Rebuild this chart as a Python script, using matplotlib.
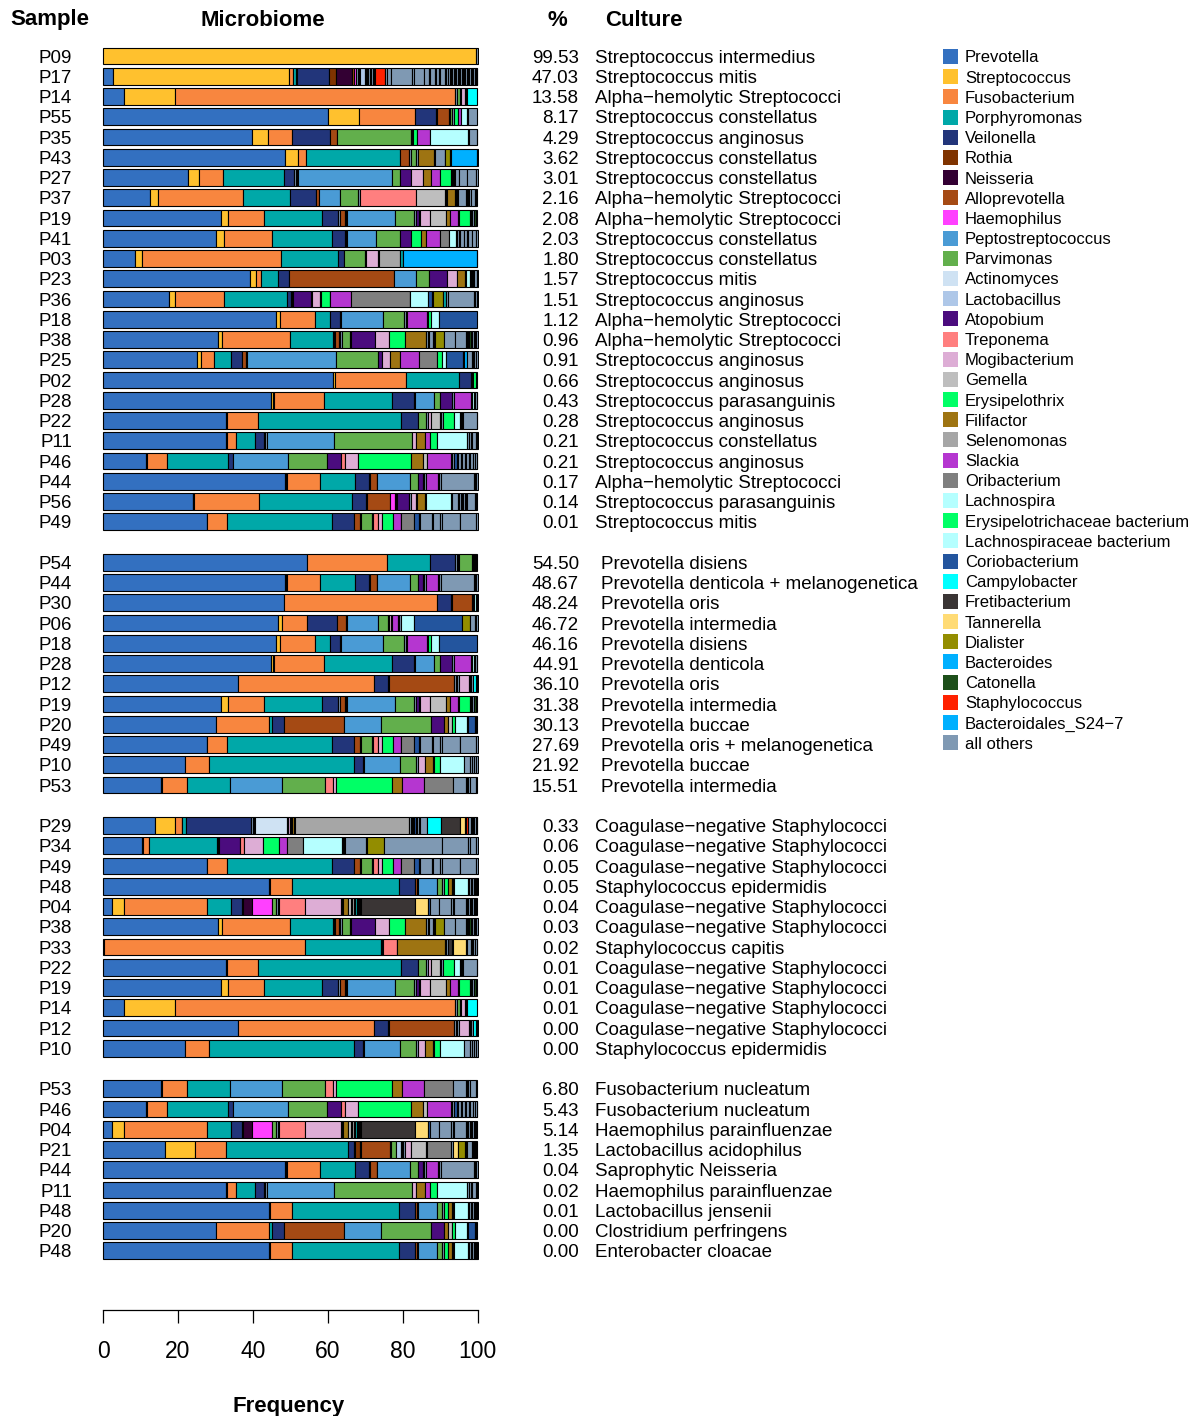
import matplotlib
matplotlib.use("Agg")
import matplotlib.pyplot as plt
from matplotlib.transforms import blended_transform_factory

plt.rcParams['font.family'] = ['Liberation Sans', 'DejaVu Sans']

# ---------------- taxa (legend) ----------------
TAXA_CODES = ["PRE", "STR", "FUS", "POR", "VEI", "ROT", "NEI", "ALL", "HAE", "PEP",
              "PAR", "ACT", "LAC", "ATO", "TRE", "MOG", "GEM", "ERY", "FIL", "SEL",
              "SLA", "ORI", "LCH", "ERB", "LCB", "COR", "CAM", "FRE", "TAN", "DIA",
              "BAC", "CAT", "STA", "BS2", "OTH"]
TAXA_NAMES = ["Prevotella", "Streptococcus", "Fusobacterium", "Porphyromonas", "Veilonella",
              "Rothia", "Neisseria", "Alloprevotella", "Haemophilus", "Peptostreptococcus",
              "Parvimonas", "Actinomyces", "Lactobacillus", "Atopobium", "Treponema",
              "Mogibacterium", "Gemella", "Erysipelothrix", "Filifactor", "Selenomonas",
              "Slackia", "Oribacterium", "Lachnospira", "Erysipelotrichaceae bacterium",
              "Lachnospiraceae bacterium", "Coriobacterium", "Campylobacter", "Fretibacterium",
              "Tannerella", "Dialister", "Bacteroides", "Catonella", "Staphylococcus",
              "Bacteroidales_S24\u22127", "all others"]
TAXA_COLORS = ["#3370C0", "#FFC12E", "#F8863F", "#00A8A8", "#22357A",
               "#7F3300", "#330033", "#A54A14", "#FF40FF", "#4A9BD5",
               "#62AF4C", "#CFE2F3", "#AEC7E8", "#4B0C7E", "#FF7F7F",
               "#DDADD5", "#BEBEBE", "#00FF66", "#9E7412", "#A6A6A6",
               "#B536D0", "#7F7F7F", "#B5FFFF", "#00FF66", "#B5FFFF",
               "#23559E", "#00FFFF", "#3A3535", "#FFDB75", "#938D00",
               "#00B0FF", "#1D4F1A", "#FF2100", "#00B0FF", "#7F99B3"]
# "K" = cluster of many tiny 'all others' OTUs

# ---------------- per-sample composition (taxon, %) ----------------
P09 = [("STR", 99.53), ("K", 0.47)]
P17 = [("PRE", 2.7), ("STR", 47.03), ("FUS", 1.0), ("POR", 0.9), ("K", 0.3), ("VEI", 8.4),
       ("ROT", 1.9), ("NEI", 4.3), ("ALL", 0.5), ("HAE", 0.6), ("K", 1.0), ("LAC", 1.2),
       ("K", 1.0), ("OTH", 0.5), ("K", 1.4), ("STA", 2.6), ("K", 0.4), ("OTH", 1.1),
       ("OTH", 5.8), ("K", 0.4), ("OTH", 2.7), ("OTH", 1.3), ("K", 0.4), ("OTH", 1.3),
       ("K", 0.3), ("OTH", 0.6), ("K", 0.4), ("OTH", 1.3), ("K", 0.3), ("OTH", 0.6),
       ("K", 1.0), ("OTH", 0.4), ("K", 6.3)]
P14 = [("PRE", 5.6), ("STR", 13.58), ("FUS", 74.9), ("K", 0.5), ("PAR", 0.8), ("K", 0.3),
       ("MOG", 0.9), ("K", 0.6), ("CAM", 2.8)]
P55 = [("PRE", 60.1), ("STR", 8.17), ("FUS", 15.0), ("VEI", 5.6), ("K", 0.3), ("ALL", 3.2),
       ("K", 0.3), ("PAR", 0.6), ("K", 0.4), ("ERY", 1.1), ("SLA", 0.7), ("LCH", 1.6),
       ("K", 0.4), ("OTH", 2.5)]
P35 = [("PRE", 39.9), ("STR", 4.29), ("FUS", 6.3), ("VEI", 10.0), ("ALL", 1.9), ("PAR", 19.9),
       ("K", 0.6), ("ERY", 1.0), ("SLA", 3.3), ("LCH", 10.3), ("K", 0.3), ("OTH", 2.0)]
P43 = [("PRE", 48.5), ("STR", 3.62), ("FUS", 2.0), ("POR", 25.2), ("ALL", 2.4), ("K", 0.4),
       ("PAR", 1.4), ("K", 0.5), ("FIL", 4.3), ("K", 0.3), ("OTH", 2.6), ("K", 0.2),
       ("DIA", 1.3), ("K", 0.3), ("BAC", 6.9)]
P27 = [("PRE", 22.7), ("STR", 3.01), ("FUS", 6.2), ("POR", 16.5), ("VEI", 2.7), ("K", 1.0),
       ("PEP", 25.0), ("PAR", 2.2), ("ATO", 2.8), ("MOG", 3.3), ("FIL", 2.3), ("SLA", 2.4),
       ("ERY", 2.7), ("K", 1.3), ("OTH", 0.9), ("OTH", 2.2), ("OTH", 2.5)]
P37 = [("PRE", 12.6), ("STR", 2.16), ("FUS", 22.6), ("POR", 12.6), ("VEI", 6.9), ("ALL", 0.9),
       ("PEP", 5.6), ("PAR", 4.8), ("K", 0.5), ("TRE", 14.9), ("GEM", 7.8), ("K", 0.6),
       ("FIL", 2.0), ("K", 0.9), ("OTH", 2.0), ("K", 1.3), ("OTH", 1.3)]
P19 = [("PRE", 31.38), ("STR", 2.08), ("FUS", 9.6), ("POR", 15.3), ("VEI", 4.5), ("K", 0.3),
       ("ALL", 1.5), ("K", 0.6), ("PEP", 12.7), ("PAR", 5.1), ("K", 0.4), ("ATO", 0.9),
       ("K", 0.3), ("MOG", 2.6), ("GEM", 4.4), ("FIL", 1.1), ("SLA", 2.0), ("K", 0.2),
       ("ERY", 3.1), ("K", 0.9), ("CAT", 0.7)]
P41 = [("PRE", 30.3), ("STR", 2.03), ("FUS", 12.9), ("POR", 16.0), ("VEI", 3.3), ("K", 0.6),
       ("PEP", 7.8), ("PAR", 6.4), ("ATO", 2.8), ("ERY", 2.8), ("FIL", 1.3), ("SLA", 3.8),
       ("ORI", 2.4), ("LCH", 1.8), ("K", 1.2), ("OTH", 0.9), ("OTH", 0.9), ("K", 0.3),
       ("OTH", 1.1), ("OTH", 1.0)]
P03 = [("PRE", 8.5), ("STR", 1.80), ("FUS", 37.2), ("POR", 15.3), ("VEI", 1.6), ("PAR", 5.6),
       ("K", 0.2), ("MOG", 3.3), ("K", 0.3), ("SEL", 5.5), ("POR", 0.7), ("K", 0.2),
       ("BAC", 19.7)]
P23 = [("PRE", 39.2), ("STR", 1.57), ("FUS", 1.4), ("POR", 4.6), ("VEI", 2.8), ("ALL", 28.1),
       ("PEP", 5.8), ("PAR", 3.7), ("ATO", 4.7), ("MOG", 2.7), ("FIL", 2.0), ("K", 0.4),
       ("LCH", 0.9), ("K", 1.3), ("OTH", 0.7)]
P36 = [("PRE", 17.5), ("STR", 1.6), ("FUS", 13.2), ("POR", 16.9), ("VEI", 0.9), ("K", 0.7),
       ("ATO", 4.7), ("K", 0.2), ("MOG", 2.2), ("K", 0.2), ("ERY", 2.4), ("K", 0.2),
       ("SLA", 5.6), ("ORI", 15.6), ("K", 0.2), ("LCH", 4.7), ("COR", 1.1), ("K", 0.2),
       ("DIA", 2.8), ("POR", 0.7), ("OTH", 0.6), ("OTH", 6.9), ("K", 0.7)]
P18 = [("PRE", 46.16), ("STR", 1.12), ("FUS", 9.2), ("POR", 4.2), ("VEI", 2.7), ("K", 0.3),
       ("PEP", 11.0), ("PAR", 5.8), ("K", 0.7), ("SLA", 5.3), ("K", 0.2), ("ERY", 0.9),
       ("LCH", 2.1), ("COR", 10.3)]
P38 = [("PRE", 30.7), ("STR", 0.96), ("FUS", 18.3), ("POR", 11.4), ("K", 0.6), ("ALL", 1.1),
       ("K", 0.7), ("PAR", 2.2), ("K", 0.3), ("ATO", 6.4), ("MOG", 3.8), ("ERY", 4.2),
       ("FIL", 5.6), ("K", 0.8), ("OTH", 1.0), ("K", 0.6), ("DIA", 2.4), ("OTH", 2.9),
       ("OTH", 2.9), ("K", 0.9), ("CAT", 0.4), ("K", 1.2)]
P25 = [("PRE", 25.2), ("STR", 0.91), ("FUS", 3.5), ("POR", 4.5), ("VEI", 3.0), ("ALL", 1.2),
       ("K", 0.2), ("PEP", 23.7), ("PAR", 11.3), ("ATO", 0.9), ("MOG", 2.3), ("FIL", 2.7),
       ("SLA", 5.1), ("ORI", 4.7), ("ERY", 1.3), ("LCH", 1.2), ("COR", 4.3), ("K", 0.4),
       ("BAC", 0.9), ("OTH", 1.2), ("K", 1.0)]
P02 = [("PRE", 61.3), ("STR", 0.66), ("FUS", 18.9), ("POR", 14.3), ("VEI", 3.0), ("K", 0.7),
       ("ERY", 0.7), ("K", 0.4)]
P28 = [("PRE", 44.91), ("STR", 0.43), ("K", 0.3), ("FUS", 13.4), ("POR", 18.1), ("VEI", 6.0),
       ("K", 0.2), ("PEP", 5.1), ("PAR", 1.6), ("ATO", 3.1), ("K", 0.5), ("SLA", 4.5),
       ("K", 0.3), ("LCH", 0.6), ("K", 0.8)]
P22 = [("PRE", 32.8), ("STR", 0.28), ("FUS", 8.3), ("POR", 38.2), ("VEI", 4.6), ("PAR", 2.2),
       ("K", 0.3), ("MOG", 0.9), ("GEM", 2.5), ("K", 0.6), ("ERY", 3.1), ("LCH", 1.5),
       ("K", 0.9), ("OTH", 3.6)]
P11 = [("PRE", 32.8), ("STR", 0.21), ("FUS", 2.5), ("POR", 5.1), ("VEI", 2.4), ("K", 0.7),
       ("PEP", 18.0), ("PAR", 20.7), ("MOG", 1.3), ("FIL", 2.2), ("SLA", 1.3), ("ERY", 2.0),
       ("LCH", 8.0), ("K", 0.5), ("OTH", 0.6), ("K", 0.2), ("OTH", 1.0), ("K", 0.4)]
P46 = [("PRE", 11.4), ("K", 0.3), ("FUS", 5.3), ("POR", 16.5), ("VEI", 1.1), ("PEP", 14.9),
       ("PAR", 10.2), ("ATO", 3.8), ("TRE", 1.1), ("MOG", 3.6), ("ERY", 14.1), ("FIL", 3.1),
       ("GEM", 1.2), ("SLA", 6.2), ("LCH", 0.5), ("K", 0.4), ("COR", 0.7), ("K", 0.4),
       ("OTH", 0.8), ("K", 0.3), ("OTH", 0.8), ("K", 0.3), ("OTH", 0.8), ("K", 0.3),
       ("OTH", 0.8), ("K", 0.3), ("OTH", 0.7)]
P44 = [("PRE", 48.67), ("STR", 0.17), ("K", 0.3), ("FUS", 8.9), ("POR", 9.2), ("VEI", 3.8),
       ("K", 0.2), ("ALL", 1.8), ("K", 0.2), ("PEP", 8.7), ("PAR", 2.3), ("ATO", 1.2),
       ("K", 0.8), ("SLA", 3.3), ("K", 0.6), ("OTH", 8.9), ("K", 0.6)]
P56 = [("PRE", 24.0), ("STR", 0.14), ("K", 0.2), ("FUS", 17.3), ("POR", 24.8), ("VEI", 3.8),
       ("K", 0.2), ("ALL", 6.2), ("HAE", 1.3), ("K", 0.6), ("ATO", 3.3), ("K", 0.5),
       ("MOG", 1.3), ("K", 0.3), ("FIL", 2.0), ("K", 0.3), ("LCH", 6.6), ("K", 0.4),
       ("OTH", 1.6), ("K", 2.4), ("OTH", 2.0), ("K", 0.3)]
P49 = [("PRE", 27.69), ("STR", 0.01), ("FUS", 5.4), ("POR", 28.0), ("VEI", 5.8), ("ALL", 1.8),
       ("K", 0.2), ("PAR", 2.9), ("K", 0.2), ("TRE", 1.4), ("MOG", 1.2), ("ERY", 2.9),
       ("SLA", 2.0), ("K", 0.2), ("ORI", 3.4), ("COR", 1.4), ("K", 0.2), ("OTH", 3.1),
       ("K", 0.3), ("OTH", 2.0), ("K", 0.4), ("OTH", 4.7), ("K", 0.2), ("OTH", 4.3)]
P54 = [("PRE", 54.50), ("FUS", 21.4), ("POR", 11.5), ("VEI", 6.7), ("K", 0.9), ("PAR", 3.4),
       ("K", 1.6)]
P30 = [("PRE", 48.24), ("FUS", 41.0), ("VEI", 3.7), ("K", 0.2), ("ALL", 5.3), ("K", 0.6),
       ("LCH", 0.5), ("K", 0.4)]
P06 = [("PRE", 46.72), ("STR", 1.2), ("FUS", 6.6), ("VEI", 8.0), ("ALL", 2.5), ("K", 0.2),
       ("PEP", 8.1), ("PAR", 2.8), ("K", 0.2), ("MOG", 0.7), ("K", 0.2), ("SLA", 1.5),
       ("K", 0.8), ("LCH", 3.6), ("COR", 12.7), ("DIA", 2.2), ("OTH", 1.4)]
P12 = [("PRE", 36.10), ("FUS", 36.3), ("VEI", 3.7), ("K", 0.2), ("ALL", 17.5), ("K", 0.4),
       ("PAR", 0.4), ("K", 0.4), ("MOG", 2.7), ("K", 1.0), ("CAM", 0.9), ("K", 0.3)]
P20 = [("PRE", 30.13), ("FUS", 14.2), ("POR", 0.7), ("VEI", 3.3), ("ALL", 16.0), ("PEP", 9.9),
       ("PAR", 13.3), ("ATO", 3.6), ("FIL", 1.0), ("GEM", 1.0), ("ERY", 0.9), ("LCH", 3.1),
       ("K", 0.3), ("COR", 2.0), ("K", 0.6)]
P10 = [("PRE", 21.92), ("FUS", 6.5), ("POR", 38.5), ("VEI", 2.5), ("K", 0.4), ("PEP", 9.5),
       ("PAR", 4.3), ("K", 0.5), ("MOG", 1.9), ("FIL", 2.0), ("K", 0.4), ("ERY", 1.6),
       ("LCH", 6.5), ("OTH", 1.5), ("K", 0.4), ("OTH", 0.6), ("K", 0.5)]
P53 = [("PRE", 15.51), ("K", 0.2), ("FUS", 6.80), ("POR", 11.3), ("PEP", 14.1), ("PAR", 11.4),
       ("TRE", 2.0), ("MOG", 0.9), ("ERY", 15.1), ("FIL", 2.5), ("SLA", 6.0), ("ORI", 7.7),
       ("OTH", 3.4), ("K", 1.0), ("OTH", 1.6), ("K", 0.5)]
P29 = [("PRE", 14.0), ("STR", 5.2), ("FUS", 1.8), ("K", 0.2), ("POR", 0.9), ("VEI", 17.5),
       ("K", 1.0), ("ACT", 8.5), ("K", 0.3), ("MOG", 0.4), ("TRE", 0.4), ("K", 0.3),
       ("FIL", 0.4), ("K", 0.4), ("SEL", 30.5), ("K", 1.3), ("COR", 0.4), ("K", 0.4),
       ("OTH", 0.5), ("K", 0.3), ("OTH", 1.9), ("CAM", 3.7), ("FRE", 5.1), ("TAN", 1.3),
       ("K", 0.3), ("STA", 0.33), ("OTH", 0.9), ("K", 1.6)]
P34 = [("PRE", 10.5), ("K", 0.2), ("FUS", 1.5), ("POR", 18.3), ("K", 0.6), ("ATO", 5.6),
       ("TRE", 0.9), ("MOG", 5.1), ("ERY", 4.3), ("SLA", 2.0), ("ORI", 4.5), ("LCH", 10.2),
       ("K", 0.9), ("OTH", 5.5), ("K", 0.4), ("DIA", 4.5), ("OTH", 15.6), ("OTH", 6.9),
       ("K", 0.5), ("OTH", 1.5)]
P48 = [("PRE", 44.3), ("K", 0.2), ("FUS", 5.9), ("POR", 28.7), ("VEI", 4.2), ("ALL", 0.5),
       ("K", 0.4), ("PEP", 5.1), ("PAR", 1.3), ("K", 0.4), ("ERY", 1.2), ("FIL", 0.9),
       ("K", 0.6), ("LCH", 3.8), ("K", 1.8), ("OTH", 0.3), ("K", 0.3)]
P04 = [("PRE", 2.5), ("STR", 3.0), ("FUS", 22.4), ("POR", 6.4), ("VEI", 2.7), ("K", 0.4),
       ("NEI", 2.4), ("HAE", 5.2), ("PAR", 1.3), ("K", 0.7), ("TRE", 6.9), ("MOG", 9.6),
       ("K", 0.6), ("FIL", 1.4), ("GEM", 0.6), ("K", 0.3), ("SEL", 0.6), ("K", 0.3),
       ("POR", 0.4), ("K", 1.3), ("FRE", 14.2), ("TAN", 3.7), ("COR", 0.5), ("OTH", 2.2),
       ("OTH", 3.4), ("K", 0.7), ("OTH", 3.1), ("K", 3.2)]
P33 = [("PRE", 0.3), ("FUS", 53.6), ("POR", 20.3), ("K", 0.6), ("TRE", 3.6), ("K", 0.2),
       ("FIL", 12.7), ("K", 0.7), ("FRE", 1.3), ("K", 0.2), ("TAN", 3.4), ("K", 0.2),
       ("OTH", 1.1), ("K", 0.7), ("STA", 0.02), ("OTH", 0.5), ("K", 0.5)]
P21 = [("PRE", 16.5), ("STR", 8.0), ("FUS", 8.3), ("POR", 32.7), ("VEI", 1.5), ("K", 0.3),
       ("ROT", 1.3), ("K", 0.4), ("ALL", 7.6), ("K", 0.4), ("PAR", 1.2), ("LAC", 1.35),
       ("K", 1.0), ("MOG", 1.8), ("GEM", 4.0), ("K", 0.2), ("ORI", 6.4), ("K", 0.5),
       ("TAN", 1.3), ("DIA", 1.8), ("K", 0.6), ("OTH", 1.4), ("K", 0.9)]

SAMPLES = {"P09": P09, "P17": P17, "P14": P14, "P55": P55, "P35": P35, "P43": P43,
           "P27": P27, "P37": P37, "P19": P19, "P41": P41, "P03": P03, "P23": P23,
           "P36": P36, "P18": P18, "P38": P38, "P25": P25, "P02": P02, "P28": P28,
           "P22": P22, "P11": P11, "P46": P46, "P44": P44, "P56": P56, "P49": P49,
           "P54": P54, "P30": P30, "P06": P06, "P12": P12, "P20": P20, "P10": P10,
           "P53": P53, "P29": P29, "P34": P34, "P48": P48, "P04": P04, "P33": P33,
           "P21": P21}

# ---------------- groups: sample, culture %, culture name ----------------
G1_IDS = ["P09", "P17", "P14", "P55", "P35", "P43", "P27", "P37", "P19", "P41", "P03", "P23",
          "P36", "P18", "P38", "P25", "P02", "P28", "P22", "P11", "P46", "P44", "P56", "P49"]
G1_PCT = [99.53, 47.03, 13.58, 8.17, 4.29, 3.62, 3.01, 2.16, 2.08, 2.03, 1.80, 1.57,
          1.51, 1.12, 0.96, 0.91, 0.66, 0.43, 0.28, 0.21, 0.21, 0.17, 0.14, 0.01]
G1_CULT = ["Streptococcus intermedius", "Streptococcus mitis", "Alpha\u2212hemolytic Streptococci",
           "Streptococcus constellatus", "Streptococcus anginosus", "Streptococcus constellatus",
           "Streptococcus constellatus", "Alpha\u2212hemolytic Streptococci",
           "Alpha\u2212hemolytic Streptococci", "Streptococcus constellatus",
           "Streptococcus constellatus", "Streptococcus mitis", "Streptococcus anginosus",
           "Alpha\u2212hemolytic Streptococci", "Alpha\u2212hemolytic Streptococci",
           "Streptococcus anginosus", "Streptococcus anginosus", "Streptococcus parasanguinis",
           "Streptococcus anginosus", "Streptococcus constellatus", "Streptococcus anginosus",
           "Alpha\u2212hemolytic Streptococci", "Streptococcus parasanguinis", "Streptococcus mitis"]

G2_IDS = ["P54", "P44", "P30", "P06", "P18", "P28", "P12", "P19", "P20", "P49", "P10", "P53"]
G2_PCT = [54.50, 48.67, 48.24, 46.72, 46.16, 44.91, 36.10, 31.38, 30.13, 27.69, 21.92, 15.51]
G2_CULT = ["Prevotella disiens", "Prevotella denticola + melanogenetica", "Prevotella oris",
           "Prevotella intermedia", "Prevotella disiens", "Prevotella denticola",
           "Prevotella oris", "Prevotella intermedia", "Prevotella buccae",
           "Prevotella oris + melanogenetica", "Prevotella buccae", "Prevotella intermedia"]

G3_IDS = ["P29", "P34", "P49", "P48", "P04", "P38", "P33", "P22", "P19", "P14", "P12", "P10"]
G3_PCT = [0.33, 0.06, 0.05, 0.05, 0.04, 0.03, 0.02, 0.01, 0.01, 0.01, 0.00, 0.00]
G3_CULT = ["Coagulase\u2212negative Staphylococci", "Coagulase\u2212negative Staphylococci",
           "Coagulase\u2212negative Staphylococci", "Staphylococcus epidermidis",
           "Coagulase\u2212negative Staphylococci", "Coagulase\u2212negative Staphylococci",
           "Staphylococcus capitis", "Coagulase\u2212negative Staphylococci",
           "Coagulase\u2212negative Staphylococci", "Coagulase\u2212negative Staphylococci",
           "Coagulase\u2212negative Staphylococci", "Staphylococcus epidermidis"]

G4_IDS = ["P53", "P46", "P04", "P21", "P44", "P11", "P48", "P20", "P48"]
G4_PCT = [6.80, 5.43, 5.14, 1.35, 0.04, 0.02, 0.01, 0.00, 0.00]
G4_CULT = ["Fusobacterium nucleatum", "Fusobacterium nucleatum", "Haemophilus parainfluenzae",
           "Lactobacillus acidophilus", "Saprophytic Neisseria", "Haemophilus parainfluenzae",
           "Lactobacillus jensenii", "Clostridium perfringens", "Enterobacter cloacae"]

GROUPS = [(G1_IDS, G1_PCT, G1_CULT), (G2_IDS, G2_PCT, G2_CULT),
          (G3_IDS, G3_PCT, G3_CULT), (G4_IDS, G4_PCT, G4_CULT)]

# ---------------- figure ----------------
W, H = 1198, 1416
fig = plt.figure(figsize=(W / 100, H / 100), dpi=100)

def fx(x):
    return x / W

def fy(y):
    return 1 - y / H

row_h = 20.25
scale = 3.745          # px per % unit
x0_px = 103.0
n_slots = 60
top_px = 56 - row_h / 2
bot_px = top_px + n_slots * row_h
xmin, xmax = -0.5, 100.5
ax = fig.add_axes([fx(x0_px + xmin * scale), fy(bot_px),
                   (xmax - xmin) * scale / W, (bot_px - top_px) / H])
ax.set_xlim(xmin, xmax)
ax.set_ylim(n_slots - 0.5, -0.5)

color_of = dict(zip(TAXA_CODES, TAXA_COLORS))
color_of["K"] = color_of["OTH"]

ys, lefts, widths, cols = [], [], [], []
slot = 0
slots_per_group = []
for gi, (ids, pcts, cults) in enumerate(GROUPS):
    gslots = []
    for sid in ids:
        segs = list(SAMPLES[sid])
        tot = sum(w for _, w in segs)
        if tot > 100:
            segs = [(c, w * 100 / tot) for c, w in segs]
        elif tot < 99.95:
            segs.append(("K", 100 - tot))
        left = 0.0
        for code, w in segs:
            if code == "K":
                n = max(1, int(round(w / 0.35)))
                pieces = [w / n] * n
            else:
                pieces = [w]
            for p in pieces:
                ys.append(slot)
                lefts.append(left)
                widths.append(p)
                cols.append(color_of[code])
                left += p
        gslots.append(slot)
        slot += 1
    slots_per_group.append(gslots)
    slot += 1  # blank row between groups

ax.barh(ys, widths, left=lefts, height=0.82, color=cols, edgecolor="black",
        linewidth=0.8)

for s in ["left", "top", "right"]:
    ax.spines[s].set_visible(False)
ax.spines["bottom"].set_position(("outward", (1310 - bot_px) * 0.72))
ax.spines["bottom"].set_bounds(0, 100)
ax.spines["bottom"].set_linewidth(0.9)
ax.set_yticks([])
ax.set_xticks([0, 20, 40, 60, 80, 100])
ax.tick_params(axis="x", length=9.4, width=0.9, labelsize=16.5, pad=12.5)

# ---------------- texts ----------------
tr = blended_transform_factory(fig.transFigure, ax.transData)
txt_size = 13.5
base_off = 0.358 * txt_size / 0.72 / row_h   # baseline offset (slots) to centre caps on row
for gi, (ids, pcts, cults) in enumerate(GROUPS):
    cx = 601 if gi == 1 else 595
    for s, sid, p, c in zip(slots_per_group[gi], ids, pcts, cults):
        yb = s + base_off
        fig.text(fx(72), yb, sid, transform=tr, ha="right", va="baseline", fontsize=txt_size)
        fig.text(fx(579), yb, f"{p:.2f}", transform=tr, ha="right", va="baseline",
                 fontsize=txt_size)
        fig.text(fx(cx), yb, c, transform=tr, ha="left", va="baseline", fontsize=txt_size)

hdr = dict(fontsize=16, fontweight="bold", va="center")
fig.text(fx(49.5), fy(20), "Sample", ha="center", **hdr)
fig.text(fx(263), fy(20), "Microbiome", ha="center", **hdr)
fig.text(fx(557), fy(20), "%", ha="center", **hdr)
fig.text(fx(605), fy(20), "Culture", ha="left", **hdr)
fig.text(fx(289), fy(1406.5), "Frequency", ha="center", **hdr)

# ---------------- legend ----------------
leg_step = 20.18
sq = 15
leg_size = 12
for i, (name, col) in enumerate(zip(TAXA_NAMES, TAXA_COLORS)):
    yc = 56.5 + i * leg_step
    fig.patches.append(plt.Rectangle((fx(943), fy(yc + sq / 2)), sq / W, sq / H,
                                     transform=fig.transFigure, facecolor=col,
                                     edgecolor="none"))
    fig.text(fx(965), fy(yc + 0.358 * leg_size / 0.72), name, ha="left", va="baseline",
             fontsize=leg_size)

fig.savefig("out.png", dpi=100)
